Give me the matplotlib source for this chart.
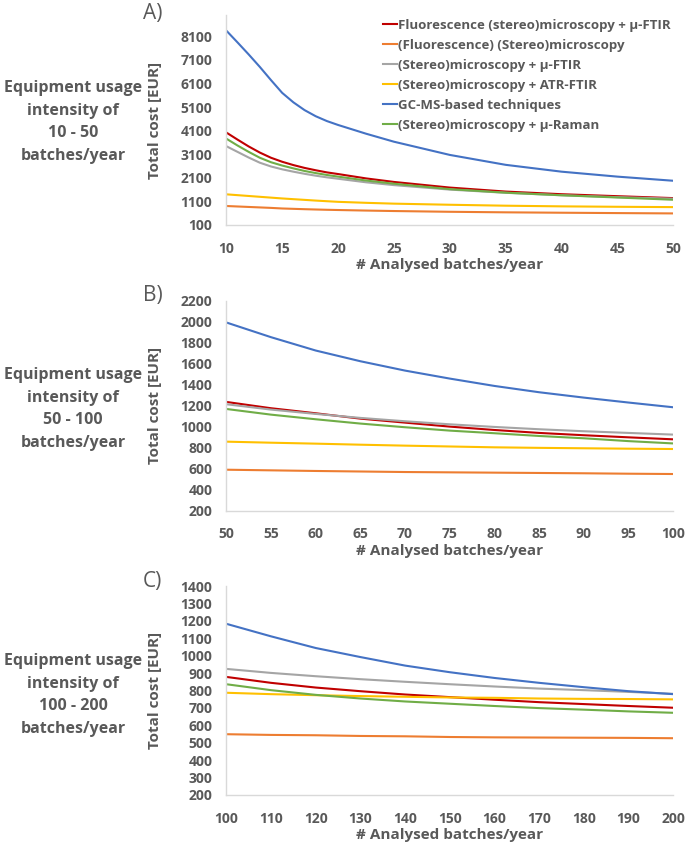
import matplotlib
matplotlib.use("Agg")
import matplotlib.pyplot as plt

# ---------------- data ----------------
series_names = [
    "Fluorescence (stereo)microscopy + µ-FTIR",
    "(Fluorescence) (Stereo)microscopy",
    "(Stereo)microscopy + µ-FTIR",
    "(Stereo)microscopy + ATR-FTIR",
    "GC-MS-based techniques",
    "(Stereo)microscopy + µ-Raman",
]
colors = ["#C00000", "#ED7D31", "#A5A5A5", "#FFC000", "#4472C4", "#70AD47"]

# Panel A: 10-50 batches/year
xA = [10, 11, 12, 13, 14, 15, 16, 17, 18, 19, 20, 22.5, 25, 30, 35, 40, 45, 50]
A_red    = [4020, 3720, 3430, 3170, 2950, 2780, 2640, 2520, 2420, 2330, 2260, 2075, 1925, 1686, 1517, 1405, 1321, 1240]
A_orange = [905, 885, 865, 845, 825, 800, 785, 770, 757, 745, 735, 712, 692, 660, 637, 620, 605, 591]
A_gray   = [3440, 3200, 2960, 2740, 2580, 2460, 2360, 2270, 2190, 2120, 2060, 1910, 1790, 1600, 1465, 1360, 1280, 1215]
A_yellow = [1400, 1365, 1330, 1295, 1260, 1225, 1195, 1165, 1135, 1108, 1082, 1040, 1005, 958, 918, 890, 872, 858]
A_blue   = [8340, 7840, 7330, 6800, 6240, 5700, 5300, 4970, 4710, 4505, 4340, 3970, 3630, 3070, 2650, 2360, 2150, 1975]
A_green  = [3760, 3470, 3200, 2950, 2760, 2620, 2500, 2390, 2300, 2220, 2150, 1985, 1850, 1620, 1470, 1360, 1265, 1170]

# Panel B: 50-100 batches/year
xB = [50, 55, 60, 65, 70, 75, 80, 85, 90, 95, 100]
B_red    = [1235, 1175, 1127, 1076, 1038, 1000, 968, 940, 918, 898, 879]
B_orange = [590, 584, 578, 573, 568, 565, 562, 559, 556, 552, 549]
B_gray   = [1213, 1162, 1121, 1083, 1051, 1022, 997, 975, 956, 940, 924]
B_yellow = [857, 847, 838, 828, 819, 811, 803, 798, 794, 790, 787]
B_blue   = [1991, 1851, 1724, 1622, 1533, 1457, 1387, 1327, 1276, 1229, 1184]
B_green  = [1168, 1114, 1070, 1029, 994, 962, 937, 911, 889, 862, 840]

# Panel C: 100-200 batches/year
xC = [100, 110, 120, 130, 140, 150, 160, 170, 180, 190, 200]
C_red    = [878, 844, 817, 796, 777, 762, 747, 733, 722, 711, 701]
C_orange = [549, 545, 543, 539, 537, 533, 531, 530, 529, 528, 526]
C_gray   = [924, 901, 882, 865, 850, 836, 823, 811, 802, 792, 781]
C_yellow = [787, 779, 773, 768, 764, 760, 758, 754, 752, 751, 749]
C_blue   = [1183, 1111, 1044, 992, 943, 905, 872, 844, 819, 796, 779]
C_green  = [836, 802, 775, 754, 737, 724, 711, 699, 690, 680, 672]

side_labels = [
    "Equipment usage\nintensity of\n10 - 50\nbatches/year",
    "Equipment usage\nintensity of\n50 - 100\nbatches/year",
    "Equipment usage\nintensity of\n100 - 200\nbatches/year",
]
panel_letters = ["A)", "B)", "C)"]

xticksA = [10, 15, 20, 25, 30, 35, 40, 45, 50]
yticksA = [100, 1100, 2100, 3100, 4100, 5100, 6100, 7100, 8100]
xticksB = [50, 55, 60, 65, 70, 75, 80, 85, 90, 95, 100]
yticksB = [200, 400, 600, 800, 1000, 1200, 1400, 1600, 1800, 2000, 2200]
xticksC = [100, 110, 120, 130, 140, 150, 160, 170, 180, 190, 200]
yticksC = [200, 300, 400, 500, 600, 700, 800, 900, 1000, 1100, 1200, 1300, 1400]

# ---------------- plotting ----------------
plt.rcParams['font.family'] = ['Open Sans', 'DejaVu Sans']
txt = "#595959"

fig = plt.figure(figsize=(6.85, 8.43), dpi=100)
W, H = 685, 843

def axes_px(left, top, right, bottom):
    return fig.add_axes([left / W, 1 - bottom / H, (right - left) / W, (bottom - top) / H])

L, R = 226.3, 673.3
panels = [
    (axes_px(L, 15, R, 225), xA,
     [A_red, A_orange, A_gray, A_yellow, A_blue, A_green], xticksA, yticksA, (100, 9000), (10, 50), 122, 14),
    (axes_px(L, 300.5, R, 510.7), xB,
     [B_red, B_orange, B_gray, B_yellow, B_blue, B_green], xticksB, yticksB, (200, 2200), (50, 100), 409, 296),
    (axes_px(L, 586, R, 795), xC,
     [C_red, C_orange, C_gray, C_yellow, C_blue, C_green], xticksC, yticksC, (200, 1400), (100, 200), 695, 581),
]

for i, (ax, x, ys, xt, yt, ylim, xlim, label_y, letter_y) in enumerate(panels):
    for y, c, n in zip(ys, colors, series_names):
        ax.plot(x, y, color=c, lw=1.5, label=n)
    ax.set_xlim(*xlim)
    ax.set_ylim(*ylim)
    ax.set_xticks(xt)
    ax.set_yticks(yt)
    ax.tick_params(axis='x', length=0, labelsize=10, labelcolor=txt, pad=12)
    ax.tick_params(axis='y', length=0, labelsize=10, labelcolor=txt, pad=10)
    for lab in ax.get_xticklabels() + ax.get_yticklabels():
        lab.set_fontweight('bold')
    for s in ['top', 'right']:
        ax.spines[s].set_visible(False)
    for s in ['left', 'bottom']:
        ax.spines[s].set_color('#D9D9D9')
        ax.spines[s].set_linewidth(1.0)
    ax.set_xlabel("# Analysed batches/year", fontsize=11, fontweight='bold', color=txt, labelpad=2)
    ax.set_ylabel("Total cost [EUR]", fontsize=11, fontweight='bold', color=txt, labelpad=13)
    ax.patch.set_alpha(0)
    fig.text(143 / W, 1 - letter_y / H, panel_letters[i],
             fontsize=15, color=txt, ha='left', va='center')
    fig.text(73 / W, 1 - label_y / H, side_labels[i], fontsize=11.5, fontweight='bold',
             color=txt, ha='center', va='center', linespacing=1.55)

axA = panels[0][0]
leg = axA.legend(loc='upper left', bbox_to_anchor=((383 - L) / (R - L), 0.981), frameon=False,
                 fontsize=9.5, handlelength=1.05, handletextpad=0.05, labelspacing=0.53,
                 borderaxespad=0.0, borderpad=0.0)
for t in leg.get_texts():
    t.set_color(txt)
    t.set_fontweight('bold')

fig.savefig("out.png", dpi=100)
